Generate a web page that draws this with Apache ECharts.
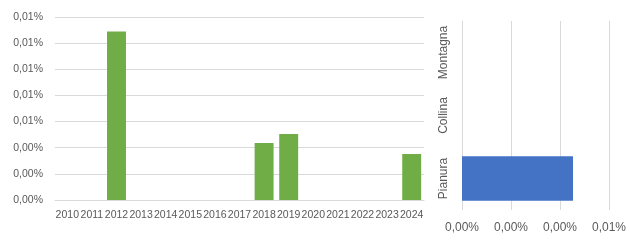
<!DOCTYPE html>
<html>
<head>
<meta charset="utf-8">
<script src="https://cdn.jsdelivr.net/npm/echarts@6/dist/echarts.min.js"></script>
<style>html,body{margin:0;padding:0;background:#fff;}#c{width:630px;height:240px;}</style>
</head>
<body>
<div id="c"></div>
<script>
const years = ['2010','2011','2012','2013','2014','2015','2016','2017','2018','2019','2020','2021','2022','2023','2024'];
const yearValues = [0, 0, 0.0129, 0, 0, 0, 0, 0, 0.00436, 0.00505, 0, 0, 0, 0, 0.00352];
const zones = ['Pianura', 'Collina', 'Montagna'];
const zoneValues = [0.00453, 0, 0];

const fmt = v => v.toFixed(2).replace('.', ',') + '%';
const txt = '#595959';
const grid = '#d9d9d9';
const chart = echarts.init(document.getElementById('c'));
chart.setOption({
  animation: false,
  grid: [
    {left: 55, right: 206, top: 17, bottom: 40},
    {left: 462, right: 21, top: 21, bottom: 30}
  ],
  xAxis: [
    {type: 'category', gridIndex: 0, data: years,
     axisLine: {show: true, lineStyle: {color: grid}}, axisTick: {show: false},
     axisLabel: {color: txt, fontSize: 10.5, fontFamily: 'Liberation Sans', margin: 10, interval: 0}},
    {type: 'value', gridIndex: 1, min: 0, max: 0.006, interval: 0.002,
     axisLine: {show: false}, axisTick: {show: false},
     splitLine: {lineStyle: {color: grid}},
     axisLabel: {color: txt, fontSize: 12, fontFamily: 'Liberation Sans', margin: 12, formatter: fmt}}
  ],
  yAxis: [
    {type: 'value', gridIndex: 0, min: 0, max: 0.014, interval: 0.002,
     axisLine: {show: false}, axisTick: {show: false},
     splitLine: {lineStyle: {color: grid}},
     axisLabel: {color: txt, fontSize: 10.5, fontFamily: 'Liberation Sans', margin: 12, formatter: fmt}},
    {type: 'category', gridIndex: 1, data: zones,
     axisLine: {show: false}, axisTick: {show: false},
     axisLabel: {color: txt, fontSize: 12, fontFamily: 'Liberation Sans', margin: 12, rotate: 90, interval: 0}}
  ],
  series: [
    {type: 'bar', xAxisIndex: 0, yAxisIndex: 0, data: yearValues,
     barCategoryGap: '23%', itemStyle: {color: '#70ad47'}},
    {type: 'bar', xAxisIndex: 1, yAxisIndex: 1, data: zoneValues,
     barCategoryGap: '29%', itemStyle: {color: '#4472c4'}}
  ]
});
</script>
</body>
</html>
